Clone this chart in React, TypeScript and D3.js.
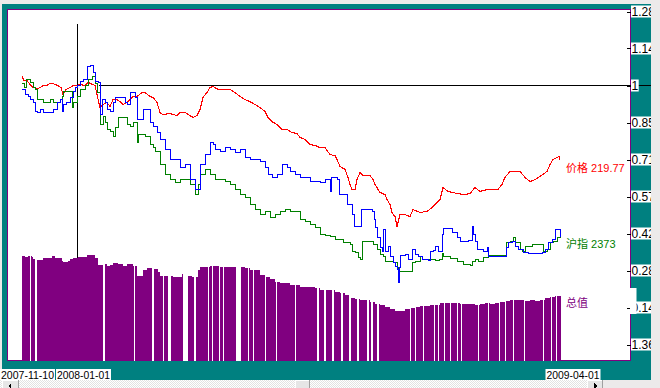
import React from "react";
import * as d3 from "d3";

type Pt = [number, number];

// trading-day index, value normalised to 1 at the cross line
const priceSeries: Pt[] = [
    [0, 1.035], [2, 1.019], [5, 1.019], [8, 1.004], [11, 0.992], [16, 0.988], [18, 0.992], [21, 1.0], [25, 1.0],
    [28, 1.008], [31, 1.008], [33, 1.004], [36, 1.0], [39, 0.992], [41, 0.965], [44, 0.985], [48, 0.992], [51, 1.0],
    [55, 1.0], [58, 1.004], [63, 1.0], [66, 1.012], [73, 1.0], [75, 0.965], [78, 0.915], [81, 0.927], [85, 0.935],
    [88, 0.919], [91, 0.946], [95, 0.946], [98, 0.938], [101, 0.927], [105, 0.935], [108, 0.946], [111, 0.958],
    [115, 0.958], [120, 0.973], [123, 0.973], [128, 0.958], [131, 0.954], [135, 0.935], [138, 0.896], [141, 0.888],
    [148, 0.892], [155, 0.884], [158, 0.896], [163, 0.896], [168, 0.884], [171, 0.877], [175, 0.884], [178, 0.908],
    [181, 0.954], [185, 0.973], [188, 0.992], [191, 0.996], [196, 0.985], [203, 0.985], [208, 0.985], [213, 0.973],
    [218, 0.958], [223, 0.946], [228, 0.938], [233, 0.927], [238, 0.915], [243, 0.9], [246, 0.877], [250, 0.861],
    [255, 0.85], [260, 0.831], [265, 0.831], [270, 0.819], [275, 0.815], [278, 0.8], [283, 0.792], [288, 0.773],
    [293, 0.769], [298, 0.761], [303, 0.761], [308, 0.734], [313, 0.73], [315, 0.715], [318, 0.688], [323, 0.677],
    [326, 0.646], [328, 0.619], [330, 0.6], [333, 0.6], [335, 0.638], [338, 0.665], [341, 0.653], [348, 0.653],
    [351, 0.638], [353, 0.619], [356, 0.6], [358, 0.588], [363, 0.58], [365, 0.561], [368, 0.542], [370, 0.511],
    [373, 0.495], [375, 0.457], [378, 0.503], [383, 0.503], [388, 0.495], [391, 0.522], [398, 0.511], [405, 0.515],
    [410, 0.53], [418, 0.561], [421, 0.607], [426, 0.592], [435, 0.584], [443, 0.58], [448, 0.584], [453, 0.607],
    [458, 0.592], [466, 0.6], [476, 0.6], [480, 0.619], [483, 0.646], [488, 0.669], [498, 0.669], [503, 0.646],
    [508, 0.63], [513, 0.638], [518, 0.65], [525, 0.669], [528, 0.696], [531, 0.715], [535, 0.723], [537, 0.727],
    [538, 0.715]
];

const blueSeries: Pt[] = [
    [0, 0.985], [2, 0.985], [3, 0.965], [6, 0.958], [8, 0.946], [11, 0.935], [13, 0.9], [15, 0.896], [18, 0.908],
    [21, 0.896], [28, 0.896], [31, 0.908], [35, 0.935], [38, 0.946], [40, 0.9], [41, 0.927], [44, 0.935], [48, 0.954],
    [51, 0.977], [53, 0.992], [55, 1.0], [58, 1.015], [61, 1.023], [65, 1.073], [68, 1.077], [71, 1.05], [73, 1.015],
    [76, 1.012], [78, 0.888], [80, 0.946], [83, 0.935], [85, 0.908], [88, 0.9], [91, 0.935], [93, 0.954], [101, 0.954],
    [103, 0.935], [105, 0.927], [108, 0.973], [111, 0.973], [113, 0.954], [115, 0.869], [118, 0.869], [121, 0.908],
    [125, 0.908], [128, 0.857], [131, 0.842], [135, 0.819], [138, 0.792], [143, 0.754], [148, 0.715], [153, 0.715],
    [158, 0.684], [163, 0.696], [168, 0.638], [173, 0.6], [178, 0.696], [183, 0.734], [188, 0.78], [191, 0.773],
    [193, 0.754], [198, 0.746], [203, 0.761], [208, 0.754], [213, 0.742], [218, 0.754], [223, 0.723], [228, 0.715],
    [238, 0.707], [243, 0.684], [246, 0.657], [250, 0.646], [255, 0.657], [260, 0.696], [265, 0.684], [268, 0.669],
    [273, 0.657], [278, 0.646], [283, 0.646], [288, 0.63], [298, 0.626], [303, 0.638], [308, 0.592], [309, 0.646],
    [315, 0.638], [317, 0.58], [324, 0.58], [325, 0.542], [329, 0.542], [330, 0.503], [332, 0.457], [338, 0.457],
    [339, 0.522], [350, 0.515], [352, 0.484], [353, 0.453], [355, 0.415], [358, 0.376], [360, 0.361], [361, 0.445],
    [363, 0.361], [366, 0.38], [368, 0.342], [371, 0.318], [373, 0.303], [375, 0.292], [376, 0.241], [377, 0.299],
    [378, 0.345], [383, 0.349], [386, 0.33], [388, 0.33], [390, 0.368], [393, 0.349], [396, 0.342], [400, 0.33],
    [406, 0.326], [408, 0.361], [411, 0.364], [413, 0.38], [416, 0.361], [420, 0.426], [421, 0.449], [426, 0.449],
    [430, 0.434], [435, 0.415], [438, 0.399], [446, 0.403], [450, 0.457], [451, 0.426], [453, 0.399], [455, 0.368],
    [461, 0.361], [465, 0.376], [466, 0.342], [483, 0.342], [484, 0.376], [486, 0.395], [490, 0.399], [493, 0.38],
    [496, 0.368], [501, 0.357], [506, 0.353], [518, 0.353], [520, 0.357], [523, 0.368], [526, 0.395], [530, 0.407],
    [533, 0.445], [537, 0.445], [538, 0.415]
];

// 沪指
const indexSeries: Pt[] = [
    [0, 1.008], [2, 0.992], [4, 1.023], [6, 1.023], [8, 1.012], [11, 0.992], [13, 0.985], [15, 0.946], [18, 0.946],
    [21, 0.935], [25, 0.935], [28, 0.946], [31, 0.935], [35, 0.935], [38, 0.946], [40, 0.958], [41, 0.977], [48, 0.977],
    [50, 0.915], [51, 0.935], [55, 0.958], [58, 0.985], [63, 1.0], [66, 1.023], [70, 1.035], [73, 1.008], [75, 0.973],
    [77, 0.973], [78, 0.85], [81, 0.881], [83, 0.857], [85, 0.831], [88, 0.823], [91, 0.804], [93, 0.838], [96, 0.877],
    [103, 0.877], [105, 0.85], [108, 0.842], [111, 0.857], [115, 0.78], [116, 0.811], [123, 0.804], [128, 0.773],
    [131, 0.761], [133, 0.746], [138, 0.696], [143, 0.657], [148, 0.638], [153, 0.626], [158, 0.638], [163, 0.638],
    [168, 0.619], [173, 0.58], [176, 0.619], [178, 0.657], [183, 0.677], [188, 0.657], [193, 0.638], [203, 0.63],
    [208, 0.619], [213, 0.6], [218, 0.58], [223, 0.569], [228, 0.542], [233, 0.522], [238, 0.503], [243, 0.515],
    [248, 0.492], [253, 0.503], [258, 0.515], [263, 0.522], [268, 0.515], [273, 0.515], [278, 0.484], [283, 0.476],
    [288, 0.465], [293, 0.453], [298, 0.426], [303, 0.422], [308, 0.418], [313, 0.407], [318, 0.407], [321, 0.395],
    [328, 0.388], [330, 0.361], [333, 0.357], [336, 0.338], [338, 0.33], [340, 0.399], [350, 0.399], [351, 0.388],
    [355, 0.368], [358, 0.349], [361, 0.342], [363, 0.322], [370, 0.322], [371, 0.318], [375, 0.299], [376, 0.284],
    [388, 0.284], [390, 0.318], [393, 0.322], [398, 0.342], [400, 0.33], [408, 0.33], [413, 0.326], [417, 0.33],
    [420, 0.353], [421, 0.342], [428, 0.334], [435, 0.322], [441, 0.311], [448, 0.307], [450, 0.322], [453, 0.33],
    [456, 0.322], [461, 0.338], [466, 0.345], [483, 0.342], [484, 0.395], [488, 0.399], [491, 0.415], [493, 0.395],
    [496, 0.395], [498, 0.368], [500, 0.361], [503, 0.38], [510, 0.388], [520, 0.388], [521, 0.361], [525, 0.368],
    [528, 0.395], [531, 0.399], [535, 0.415], [538, 0.434]
];

// 总值 bars
const totalDays = [
    0, 3, 6, 10, 11, 15, 18, 21, 30, 33, 40, 41, 46, 48, 51, 56, 65, 73, 76, 80, 83, 85, 88, 91, 96, 101, 105, 111, 115,
    121, 125, 130, 136, 138, 148, 151, 160, 166, 170, 176, 178, 188, 198, 213, 223, 228, 238, 243, 248, 253, 258, 268,
    278, 293, 298, 313, 318, 323, 328, 333, 338, 348, 353, 358, 363, 368, 373, 383, 388, 393, 398, 408, 418, 438, 453,
    458, 463, 468, 473, 478, 483, 488, 503, 508, 513, 518, 523, 528, 533
];
const totalValues = [
    105, 104, 105, 104, 102, 101, 101, 103, 105, 103, 100, 99, 100, 102, 103, 104, 106, 103, 96, 96, 97, 95, 96, 98, 97,
    95, 97, 95, 85, 91, 93, 92, 89, 85, 85, 84, 87, 85, 84, 91, 94, 95, 94, 94, 93, 91, 86, 84, 82, 79, 78, 76, 74, 73,
    71, 69, 68, 66, 63, 62, 61, 59, 57, 56, 54, 52, 50, 52, 53, 54, 55, 56, 58, 57, 56, 57, 58, 57, 58, 59, 60, 61, 60,
    61, 60, 61, 63, 64, 65
];
const lastDay = 539;
// days with no bar: [day, length]
const missingDays: Pt[] = [
    [7.5, 1.5], [13, 1.5], [81, 1.5], [112, 1.3], [130, 1.5], [141, 1], [146, 3], [161, 4.5], [172, 1.5], [186, 1],
    [190, 1], [197, 1], [201, 1], [214, 5], [226, 1], [231, 1], [243, 1], [254, 1], [273, 1], [295, 1.5], [302, 1.5],
    [310, 1.5], [319, 1.5], [327, 1.5], [335, 1.5], [345, 1.5], [349, 1.5], [355, 1.5], [388, 1], [393, 1], [401, 1],
    [412, 1], [416, 1], [422, 1], [428, 1], [435, 1], [439, 1], [456, 1], [466, 1], [477, 1], [483, 1], [491, 1],
    [502, 1], [521, 1], [529, 1], [534, 1]
];

const yTickValues = [1.285, 1.1425, 1, 0.8575, 0.715, 0.5725, 0.43, 0.2875, 0.145, 0.0025];
const yTickLabels = ["1.28", "1.14", "1", "0.85", "0.71", "0.57", "0.42", "0.28", "0.14", "1.36"];
const dateTickDays = [5.5, 61.5, 551];
const dateTickLabels = ["2007-11-10", "2008-01-01", "2009-04-01"];
const crossDay = 55;

const TEAL = "#008080";
const PURPLE = "#800080";
const FRAME = "#eceaea";
const FONT = "'Liberation Sans', Arial, 'Noto Sans CJK SC', sans-serif";

const labelWidth = (s: string) => s.split("").reduce((a, c) => a + (c === "." ? 3.3 : 6.7), 0) + 1;

export default function App() {
    const x = d3.scaleLinear().domain([0, lastDay]).range([22, 561]);
    const y = d3.scaleLinear().domain([1, 1.285]).range([85.5, 11.5]);
    const yTotal = d3.scaleLinear().domain([0, 100]).range([360.5, 260.5]);

    const lineLinear = d3.line<Pt>().x(d => x(d[0])).y(d => y(d[1]));
    const lineStep = d3.line<Pt>().x(d => x(d[0])).y(d => y(d[1])).curve(d3.curveStepAfter);

    return (
        <svg width={660} height={388} style={{ position: "absolute", left: 0, top: 0, display: "block" }}
            fontFamily={FONT}>
            <defs>
                <clipPath id="win"><rect x={0} y={0} width={651} height={380} /></clipPath>
                <pattern id="dither" width={2} height={2} patternUnits="userSpaceOnUse">
                    <rect width={2} height={2} fill="#ffffff" />
                    <rect width={1} height={1} fill="#e2e2e2" />
                    <rect x={1} y={1} width={1} height={1} fill="#e2e2e2" />
                </pattern>
            </defs>
            <rect width={660} height={388} fill={FRAME} />
            <rect x={2} y={4} width={649} height={376} fill={TEAL} />
            <rect x={7.5} y={9.5} width={623} height={351} fill="#fff" stroke={PURPLE} shapeRendering="crispEdges" />

            {/* cross line */}
            <line x1={x(crossDay) + 0.5} x2={x(crossDay) + 0.5} y1={24} y2={360} stroke="#000" shapeRendering="crispEdges" />
            <line x1={99} x2={651} y1={y(1)} y2={y(1)} stroke="#000" shapeRendering="crispEdges" />

            {/* total bars */}
            <g fill={PURPLE} shapeRendering="crispEdges">
                {totalDays.map((d, i) => {
                    const x0 = x(d);
                    const x1 = x(i < totalDays.length - 1 ? totalDays[i + 1] : lastDay);
                    return <rect key={i} x={x0} y={yTotal(totalValues[i])} width={x1 - x0}
                        height={yTotal(0) - yTotal(totalValues[i])} />;
                })}
            </g>
            <g fill="#fff" shapeRendering="crispEdges">
                {missingDays.map(([d, w], i) => (
                    <rect key={i} x={x(d)} y={250} width={x(d + w) - x(d)} height={110.5} />
                ))}
            </g>

            <g fill="none" strokeWidth={1} shapeRendering="crispEdges">
                <path d={lineLinear(priceSeries) || ""} stroke="#ff0000" strokeWidth={1.1} />
                <path d={lineStep(indexSeries) || ""} stroke="#008000" />
                <path d={lineStep(blueSeries) || ""} stroke="#0000ff" />
            </g>

            <g fontSize={11}>
                <text x={566} y={172} fill="#ff0000">价格 219.77</text>
                <text x={566} y={248} fill="#008000">沪指 2373</text>
                <text x={566} y={307} fill={PURPLE}>总值</text>
            </g>

            {/* right axis */}
            <g clipPath="url(#win)" fontSize={12}>
                {yTickValues.map((v, i) => {
                    const cy = y(v);
                    return (
                        <g key={i}>
                            <line x1={627} x2={631} y1={Math.round(cy) + 0.5} y2={Math.round(cy) + 0.5} stroke="#000"
                                shapeRendering="crispEdges" />
                            <rect x={631} y={cy - 6} width={labelWidth(yTickLabels[i])} height={12} fill="#fff" />
                            <text x={631.5} y={cy + 4.5} fill="#000">{yTickLabels[i]}</text>
                        </g>
                    );
                })}
                <rect x={630} y={288} width={6.5} height={26} fill="#fff" />
            </g>

            {/* date labels */}
            <g fontSize={11}>
                {dateTickDays.map((d, i) => (
                    <g key={i}>
                        <rect x={x(d) - 27.5} y={369} width={55} height={11} fill="#fff" />
                        <text x={x(d)} y={379} textAnchor="middle" textLength={53} lengthAdjust="spacingAndGlyphs"
                            fill="#000">{dateTickLabels[i]}</text>
                    </g>
                ))}
            </g>

            {/* scrollbar */}
            <g shapeRendering="crispEdges">
                <rect x={0} y={380} width={603} height={8} fill="url(#dither)" />
                <rect x={2} y={380} width={17} height={8} fill="#e6e6e6" />
                <line x1={2} x2={19} y1={380.5} y2={380.5} stroke="#fff" />
                <line x1={2.5} x2={2.5} y1={380} y2={388} stroke="#fff" />
                <line x1={18.5} x2={18.5} y1={380} y2={388} stroke="#a0a0a0" />
                <path d="M8,386 L11,383 L11,389 Z" fill="#000" />
                <rect x={295} y={380} width={15} height={8} fill="#e6e6e6" />
                <line x1={295} x2={310} y1={380.5} y2={380.5} stroke="#fff" />
                <line x1={295.5} x2={295.5} y1={380} y2={388} stroke="#fff" />
                <line x1={309.5} x2={309.5} y1={380} y2={388} stroke="#a0a0a0" />
                <rect x={587} y={380} width={16} height={8} fill="#e6e6e6" />
                <line x1={587} x2={603} y1={380.5} y2={380.5} stroke="#fff" />
                <line x1={587.5} x2={587.5} y1={380} y2={388} stroke="#fff" />
                <line x1={602.5} x2={602.5} y1={380} y2={388} stroke="#a0a0a0" />
                <path d="M597,386 L594,383 L594,389 Z" fill="#000" />
            </g>
        </svg>
    );
}
